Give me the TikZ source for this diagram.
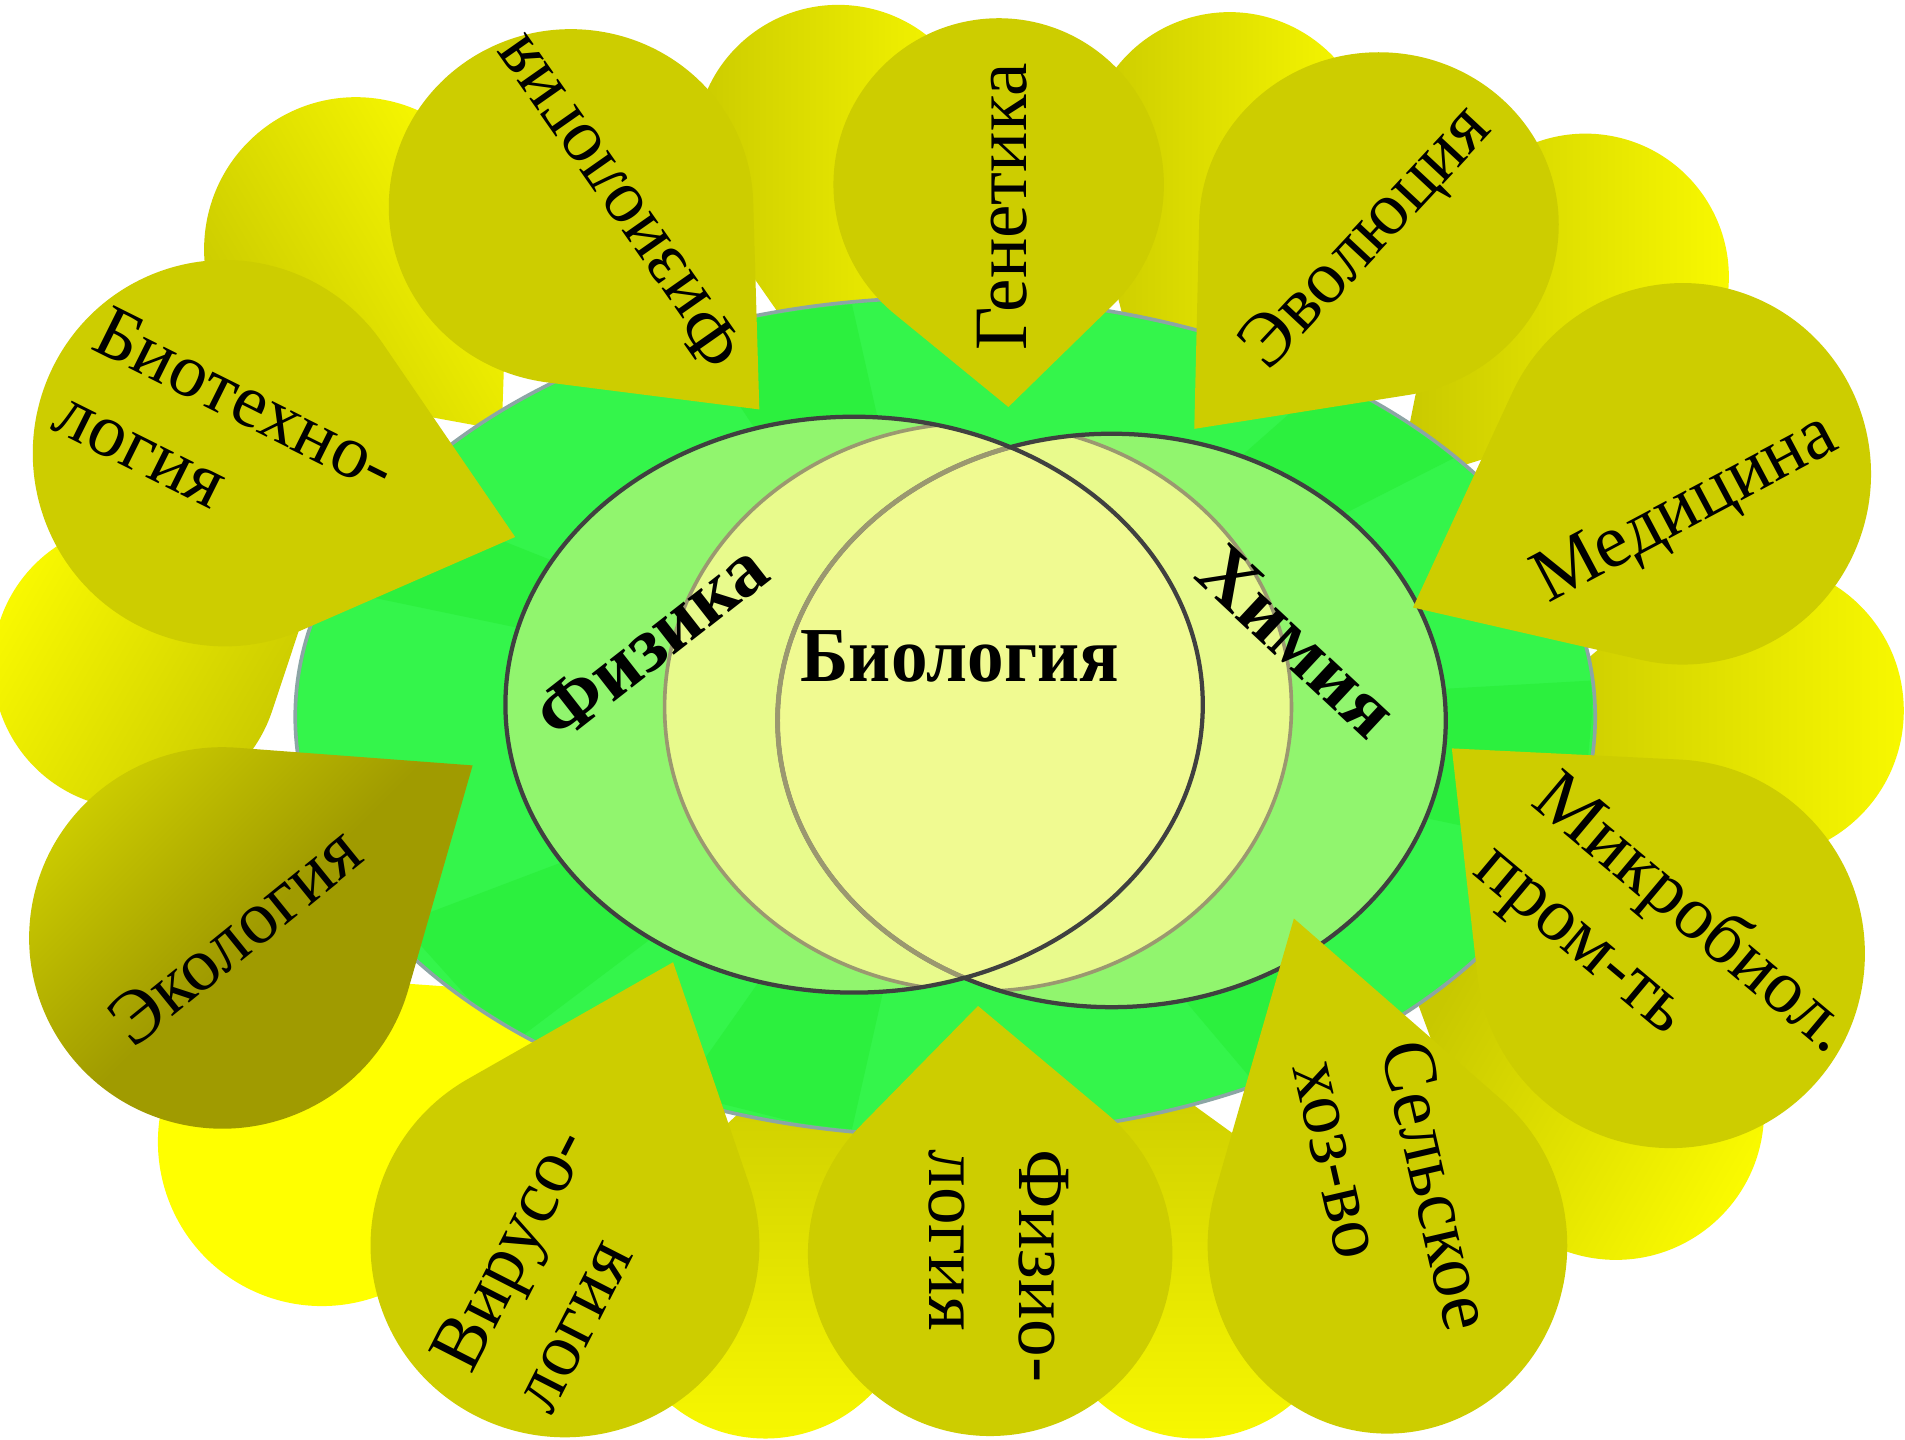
\documentclass[tikz,border=0pt]{standalone}
\usepackage{fontspec}
\setmainfont{Liberation Serif}
\definecolor{petal}{RGB}{205,205,0}
\definecolor{bgol}{RGB}{200,200,0}
\definecolor{bgyel}{RGB}{250,250,0}
\definecolor{puryel}{RGB}{255,255,0}
\definecolor{disk}{RGB}{52,245,75}
\definecolor{diskdk}{RGB}{44,240,62}
\definecolor{diskedge}{RGB}{140,165,165}
\definecolor{lgreen}{RGB}{145,245,110}
\definecolor{ylwa}{RGB}{232,250,140}
\definecolor{ylwb}{RGB}{240,250,145}
\definecolor{darkst}{RGB}{64,64,64}
\definecolor{olivest}{RGB}{155,152,112}
\definecolor{ecoA}{RGB}{205,205,0}
\definecolor{ecoB}{RGB}{160,155,0}
% teardrop: #1 options, #2 cx, #3 cy, #4 rx, #5 ry, #6 tip x, #7 tip y
\newcommand\tear[7]{%
  \pgfmathsetmacro\trux{(#6-#2)/#4}%
  \pgfmathsetmacro\truy{(#7-#3)/#5}%
  \pgfmathsetmacro\trb{atan2(\truy,\trux)}%
  \pgfmathsetmacro\trd{veclen(\trux,\truy)}%
  \pgfmathsetmacro\tra{acos(1/\trd)}%
  \pgfmathsetmacro\trs{\trb+\tra}%
  \pgfmathsetmacro\tre{\trb+360-\tra}%
  \pgfmathsetmacro\trpx{#2+#4*cos(\trs)}%
  \pgfmathsetmacro\trpy{#3+#5*sin(\trs)}%
  \path[#1] (#6,#7) -- (\trpx,\trpy) arc[start angle=\trs,end angle=\tre,x radius=#4,y radius=#5] -- cycle;%
}
\begin{document}
\begin{tikzpicture}[x=1pt,y=-1pt,
  frontpetal/.style={fill=petal},
  bgpetal/.style={top color=bgyel,bottom color=bgol,shading angle=#1},
  lbl/.style={font=\fontsize{62}{74}\selectfont,align=left,inner sep=0pt},
  blbl/.style={font=\bfseries\fontsize{64}{70}\selectfont,inner sep=0pt},
  darkline/.style={draw=darkst,line width=3.5},
  oliveline/.style={draw=olivest,line width=3}]
\useasboundingbox (0,0) rectangle (1568,1185);
\fill[white] (0,0) rectangle (1568,1185);
% background petals
\tear{bgpetal=-60}{293}{205}{125}{125}{413}{354}
\tear{bgpetal=-90}{690}{122}{118}{118}{740}{400}
\tear{bgpetal=-90}{1012}{128}{118}{118}{960}{400}
\tear{bgpetal=-90}{1305}{228}{118}{118}{1150}{400}
\tear{bgpetal=-90}{1445}{585}{122}{122}{1250}{590}
\tear{bgpetal=-120}{1330}{915}{122}{122}{1150}{780}
\tear{bgpetal=180}{985}{1062}{122}{122}{900}{850}
\tear{bgpetal=180}{630}{1062}{122}{122}{680}{850}
\tear{fill=puryel}{265}{940}{135}{135}{480}{820}
\tear{bgpetal=60}{112}{548}{118}{118}{255}{492}
% green disk
\path[fill=disk,draw=diskedge,line width=3] (778,590) ellipse[x radius=535,y radius=345];
\begin{scope}
  \clip (778,590) ellipse[x radius=533,y radius=343];
  \fill[diskdk] (778,590) -- (560,260) -- (700,245) -- cycle;
  \fill[diskdk] (778,590) -- (1130,280) -- (1230,360) -- cycle;
  \fill[diskdk] (778,590) -- (1313,560) -- (1300,700) -- cycle;
  \fill[diskdk] (778,590) -- (1150,840) -- (1040,900) -- cycle;
  \fill[diskdk] (778,590) -- (700,935) -- (560,900) -- cycle;
  \fill[diskdk] (778,590) -- (420,860) -- (330,760) -- cycle;
  \fill[diskdk] (778,590) -- (250,480) -- (300,400) -- cycle;
\end{scope}
% venn
\fill[lgreen] (915,593) ellipse[x radius=275,y radius=236];
\fill[lgreen] (703,580) ellipse[x radius=287,y radius=237];
\begin{scope}
  \clip (703,580) ellipse[x radius=287,y radius=237] (915,593) ellipse[x radius=275,y radius=236];
  \fill[ylwa] (805,582) ellipse[x radius=258,y radius=234];
  \begin{scope}
    \clip (703,580) ellipse[x radius=287,y radius=237];
    \fill[ylwb] (915,593) ellipse[x radius=275,y radius=236];
  \end{scope}
  \path[oliveline] (805,582) ellipse[x radius=258,y radius=234];
\end{scope}
\path[darkline] (915,593) ellipse[x radius=275,y radius=236];
\begin{scope}
  \clip (703,580) ellipse[x radius=285,y radius=235];
  \path[draw=olivest,line width=4] (915,593) ellipse[x radius=275,y radius=236];
\end{scope}
\path[darkline] (703,580) ellipse[x radius=287,y radius=237];
% front petals
\tear{frontpetal}{185}{373}{158}{159}{424}{442}
\tear{frontpetal}{470}{170}{150}{146}{625}{337}
\tear{frontpetal}{822}{152}{136}{137}{830}{335}
\tear{frontpetal}{1135}{185}{148}{142}{983}{353}
\tear{frontpetal}{1385}{390}{155}{157}{1163}{500}
\tear{frontpetal}{1375}{785}{160}{160}{1195}{616}
\tear{frontpetal}{1142}{1025}{148}{155}{1065}{756}
\tear{frontpetal}{815}{1032}{150}{150}{805}{828}
\tear{frontpetal}{465}{1025}{160}{158}{554}{792}
\tear{top color=ecoA,bottom color=ecoB,middle color=ecoB,shading angle=45}{183}{772}{159}{157}{389}{630}
% labels
\node[lbl,rotate=125] (t1) at (507,168) {Физиология};
\node[lbl,rotate=90] (t2) at (825,170) {Генетика};
\node[lbl,rotate=47] (t3) at (1126,197) {Эволюция};
\node[lbl,rotate=28] (t4) at (1388,420) {Медицина};
\node[lbl,rotate=-40] (t5) at (1368,782) {Микробиол.\\пром-ть};
\node[lbl,rotate=-77] (t6) at (1147,984) {Сельское\\хоз-во};
\node[lbl,rotate=-90] (t7) at (822,1042) {Физио-\\логия};
\node[lbl,rotate=63] (t8) at (452,1044) {Вирусо-\\логия};
\node[lbl,rotate=39] (t9) at (193,770) {Экология};
\node[lbl,rotate=-26.5] (t10) at (186,362) {Биотехно-\\логия};
\node[blbl,xscale=0.94] (bio) at (790,540) {Биология};
\node[blbl,rotate=38] (phys) at (536,528) {Физика};
\node[blbl,rotate=-43] (chem) at (1068,528) {Химия};
\end{tikzpicture}
\end{document}
